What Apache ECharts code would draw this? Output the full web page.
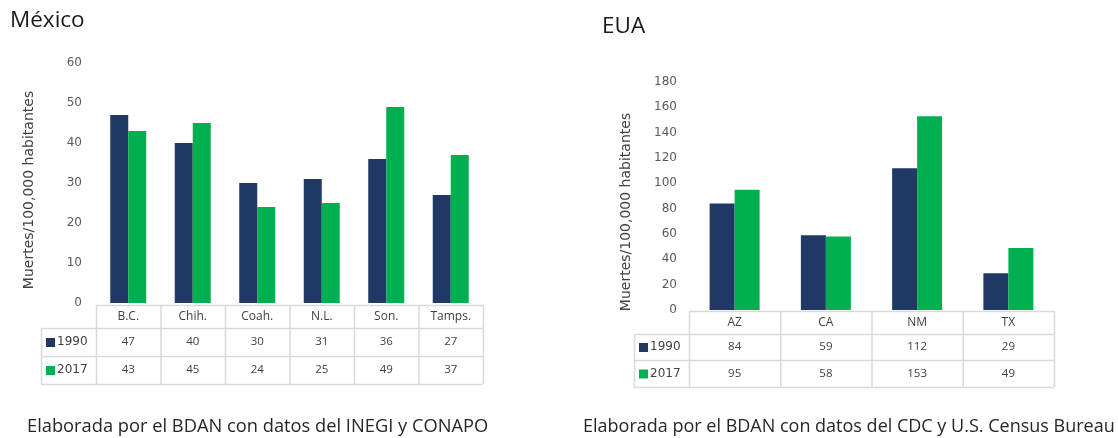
<!DOCTYPE html>
<html>
<head>
<meta charset="utf-8">
<script src="https://cdn.jsdelivr.net/npm/echarts@6/dist/echarts.min.js"></script>
<style>
html,body{margin:0;padding:0;background:#fff;}
#c{width:1118px;height:438px;}
</style>
</head>
<body>
<div id="c"></div>
<script>
// ---- Data ----
var mxCategories = ['B.C.', 'Chih.', 'Coah.', 'N.L.', 'Son.', 'Tamps.'];
var mx1990 = [47, 40, 30, 31, 36, 27];
var mx2017 = [43, 45, 24, 25, 49, 37];
var mxYTicks = [0, 10, 20, 30, 40, 50, 60];

var usCategories = ['AZ', 'CA', 'NM', 'TX'];
var us1990 = [84, 59, 112, 29];
var us2017 = [95, 58, 153, 49];
var usYTicks = [0, 20, 40, 60, 80, 100, 120, 140, 160, 180];

var seriesNames = ['1990', '2017'];
var yName = 'Muertes/100,000 habitantes';
var titles = ['México', 'EUA'];
var footers = ['Elaborada por el BDAN con datos del INEGI y CONAPO',
               'Elaborada por el BDAN con datos del CDC y U.S. Census Bureau'];

// ---- Style / layout ----
var C1990 = '#203864', C2017 = '#00B050';
var LINE = '#D9D9D9';
var TXT = '#404040';
var FONT = '"Open Sans", "Noto Sans", sans-serif';
var SFONT = '"DejaVu Sans", sans-serif';

var L = [
  {grid:{left:96, top:63, width:387, height:240}, barW:18, nameGap:60, namePad:[0, 14, 0, 0], labelMargin:14, axisLabelMargin:8,
   table:{legendLeft:41, rows:[305, 328, 356, 384]}, title:{x:10, y:21}, footer:{x:27, y:427}, footSize:18.3},
  {grid:{left:689, top:82, width:365, height:228}, barW:25, nameGap:56, namePad:[0, 32, 0, 0], labelMargin:12, axisLabelMargin:7,
   table:{legendLeft:634, rows:[311, 334, 360, 387]}, title:{x:602, y:27}, footer:{x:583, y:427}, footSize:18}
];

var charts = [
  {cats: mxCategories, s1: mx1990, s2: mx2017, ticks: mxYTicks},
  {cats: usCategories, s1: us1990, s2: us2017, ticks: usYTicks}
];

var el = document.getElementById('c');
var chart = echarts.init(el, null, {renderer:'canvas'});

var grids = [], xAxes = [], yAxes = [], series = [];
charts.forEach(function(c, i){
  var lay = L[i];
  grids.push({left: lay.grid.left, top: lay.grid.top, width: lay.grid.width, height: lay.grid.height});
  xAxes.push({
    type:'category', gridIndex:i, data:c.cats,
    axisLine:{show:false}, axisTick:{show:false},
    axisLabel:{margin: lay.axisLabelMargin, color: TXT, fontSize: 12, fontFamily: FONT}
  });
  var tmin = c.ticks[0], tmax = c.ticks[c.ticks.length-1];
  yAxes.push({
    type:'value', gridIndex:i, min:tmin, max:tmax, interval: c.ticks[1]-c.ticks[0],
    axisLine:{show:false}, axisTick:{show:false}, splitLine:{show:false},
    axisLabel:{margin: lay.labelMargin, color:'#595959', fontSize:12, fontFamily: SFONT},
    name: yName, nameLocation:'middle', nameGap: lay.nameGap, nameRotate: 90,
    nameTextStyle:{color:'#404040', fontSize:14, fontFamily: SFONT, padding: lay.namePad}
  });
  series.push({type:'bar', name:seriesNames[0], xAxisIndex:i, yAxisIndex:i, data:c.s1,
    barWidth: lay.barW, barGap:'0%', itemStyle:{color:C1990}, silent:true});
  series.push({type:'bar', name:seriesNames[1], xAxisIndex:i, yAxisIndex:i, data:c.s2,
    barWidth: lay.barW, barGap:'0%', itemStyle:{color:C2017}, silent:true});
});

chart.setOption({
  animation:false,
  grid: grids, xAxis: xAxes, yAxis: yAxes, series: series
});

// ---- Data table & texts built from data arrays via the axis scales ----
var g = [];
function hline(x1, x2, y){ g.push({type:'line', silent:true, shape:{x1:x1, y1:y+0.5, x2:x2, y2:y+0.5}, style:{stroke:LINE, lineWidth:1.5}}); }
function vline(x, y1, y2){ g.push({type:'line', silent:true, shape:{x1:x+0.5, y1:y1, x2:x+0.5, y2:y2}, style:{stroke:LINE, lineWidth:1.5}}); }

charts.forEach(function(c, i){
  var lay = L[i];
  var rows = lay.table.rows;
  var left = lay.grid.left, right = lay.grid.left + lay.grid.width;
  var n = c.cats.length;
  var bw = lay.grid.width / n;
  hline(left, right, rows[0]);
  hline(lay.table.legendLeft, right, rows[1]);
  hline(lay.table.legendLeft, right, rows[2]);
  hline(lay.table.legendLeft, right, rows[3]);
  vline(lay.table.legendLeft, rows[1], rows[3]);
  for (var k = 0; k <= n; k++) {
    vline(left + k*bw, rows[0], rows[3]);
  }
  var vals = [c.s1, c.s2];
  var cols = [C1990, C2017];
  for (var r = 0; r < 2; r++) {
    var cy = (rows[r+1] + rows[r+2]) / 2;
    vals[r].forEach(function(v, j){
      var px = chart.convertToPixel({xAxisIndex:i}, c.cats[j]);
      g.push({type:'text', silent:true, x:px, y:cy, style:{text:String(v), fill:TXT, font:'11.5px ' + FONT, align:'center', verticalAlign:'middle'}});
    });
    g.push({type:'rect', silent:true, shape:{x:lay.table.legendLeft+5, y:cy-4, width:9, height:9}, style:{fill:cols[r]}});
    g.push({type:'text', silent:true, x:lay.table.legendLeft+16, y:cy, style:{text:seriesNames[r], fill:TXT, font:'12px ' + SFONT, align:'left', verticalAlign:'middle'}});
  }
  g.push({type:'text', silent:true, x:lay.title.x, y:lay.title.y, style:{text:titles[i], fill:'#1a1a1a', font:'22.5px ' + FONT, align:'left', verticalAlign:'middle'}});
  g.push({type:'text', silent:true, x:lay.footer.x, y:lay.footer.y, style:{text:footers[i], fill:'#262626', font:lay.footSize + 'px ' + FONT, align:'left', verticalAlign:'middle'}});
});

chart.setOption({graphic: g});
</script>
</body>
</html>
